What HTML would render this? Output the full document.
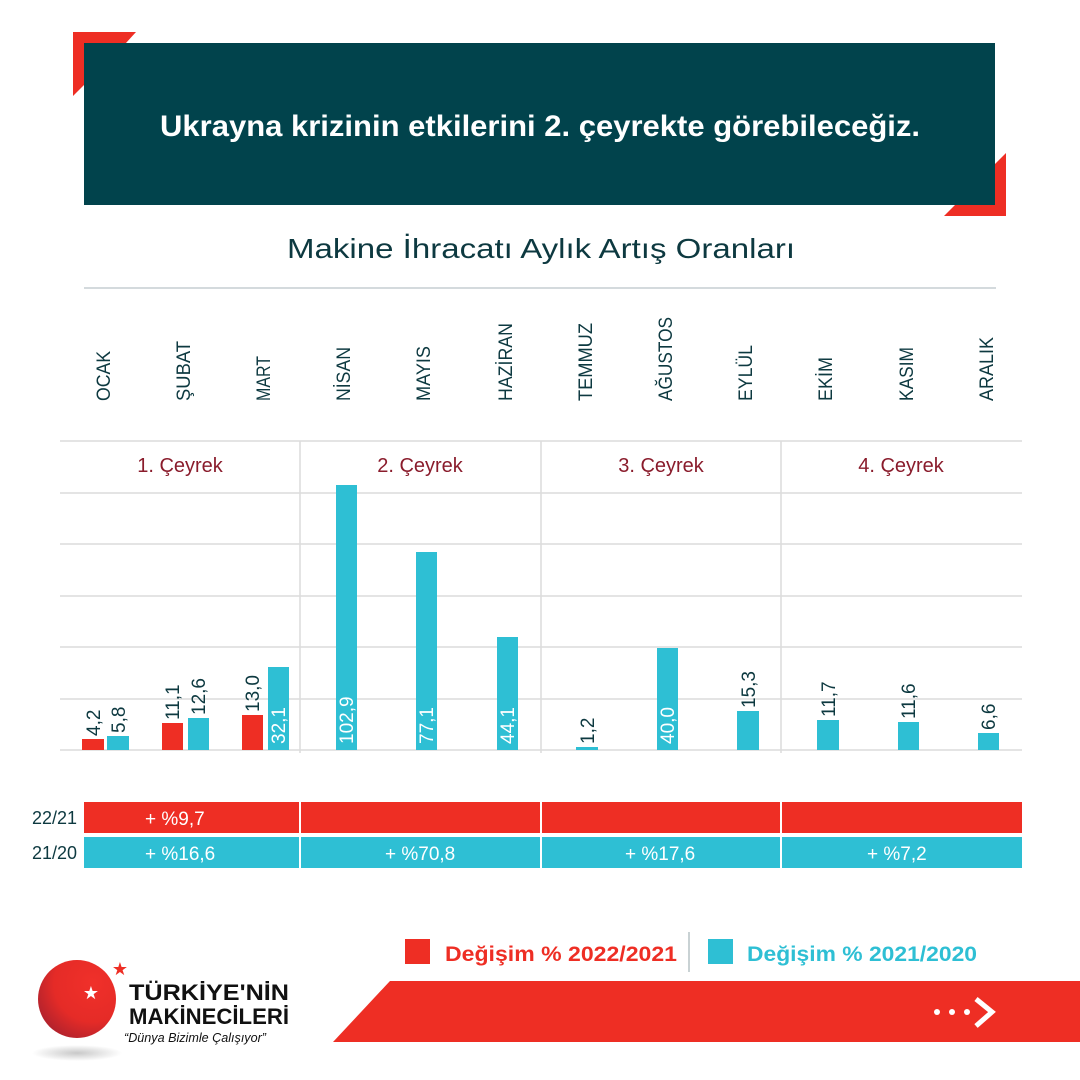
<!DOCTYPE html>
<html><head><meta charset="utf-8"><style>html,body{margin:0;padding:0;background:#fff}svg{display:block}</style></head>
<body>
<svg width="1080" height="1080" viewBox="0 0 1080 1080" xmlns="http://www.w3.org/2000/svg" font-family="Liberation Sans, DejaVu Sans, sans-serif">
<rect width="1080" height="1080" fill="#fff"/>
<polygon points="73,32 136,32 126,43 84,43 84,85 73,96" fill="#ee2e24"/>
<polygon points="1006,153 1006,216 944,216 955,205 995,205 995,164" fill="#ee2e24"/>
<rect x="84" y="43" width="911" height="162" fill="#01434c"/>
<text x="540" y="136" text-anchor="middle" fill="#fff" font-size="30" font-weight="bold" textLength="760" lengthAdjust="spacingAndGlyphs">Ukrayna krizinin etkilerini 2. çeyrekte görebileceğiz.</text>
<text x="541" y="258" text-anchor="middle" fill="#0d3940" font-size="28" textLength="508" lengthAdjust="spacingAndGlyphs">Makine İhracatı Aylık Artış Oranları</text>
<line x1="84" y1="288" x2="996" y2="288" stroke="#c5ced2" stroke-width="1.5"/>
<g fill="#0d3940" font-size="19">
<text transform="translate(110,401) rotate(-90)" textLength="50" lengthAdjust="spacingAndGlyphs">OCAK</text>
<text transform="translate(190,401) rotate(-90)" textLength="60" lengthAdjust="spacingAndGlyphs">ŞUBAT</text>
<text transform="translate(270,401) rotate(-90)" textLength="45" lengthAdjust="spacingAndGlyphs">MART</text>
<text transform="translate(350,401) rotate(-90)" textLength="54" lengthAdjust="spacingAndGlyphs">NİSAN</text>
<text transform="translate(430,401) rotate(-90)" textLength="55" lengthAdjust="spacingAndGlyphs">MAYIS</text>
<text transform="translate(512,401) rotate(-90)" textLength="78" lengthAdjust="spacingAndGlyphs">HAZİRAN</text>
<text transform="translate(592,401) rotate(-90)" textLength="78" lengthAdjust="spacingAndGlyphs">TEMMUZ</text>
<text transform="translate(672,401) rotate(-90)" textLength="84" lengthAdjust="spacingAndGlyphs">AĞUSTOS</text>
<text transform="translate(752,401) rotate(-90)" textLength="56" lengthAdjust="spacingAndGlyphs">EYLÜL</text>
<text transform="translate(832,401) rotate(-90)" textLength="44" lengthAdjust="spacingAndGlyphs">EKİM</text>
<text transform="translate(913,401) rotate(-90)" textLength="54" lengthAdjust="spacingAndGlyphs">KASIM</text>
<text transform="translate(993,401) rotate(-90)" textLength="64" lengthAdjust="spacingAndGlyphs">ARALIK</text>
</g>
<g stroke="#dcdcdc" stroke-width="1.5">
<line x1="60" y1="441" x2="1022" y2="441"/><line x1="60" y1="493" x2="1022" y2="493"/>
<line x1="60" y1="544" x2="1022" y2="544"/><line x1="60" y1="596" x2="1022" y2="596"/>
<line x1="60" y1="647" x2="1022" y2="647"/><line x1="60" y1="699" x2="1022" y2="699"/>
<line x1="60" y1="750" x2="1022" y2="750"/>
<line x1="300" y1="441" x2="300" y2="753"/><line x1="541" y1="441" x2="541" y2="753"/><line x1="781" y1="441" x2="781" y2="753"/>
</g>
<g fill="#8a1c2c" font-size="20" text-anchor="middle">
<text x="180" y="472">1. Çeyrek</text><text x="420" y="472">2. Çeyrek</text>
<text x="661" y="472">3. Çeyrek</text><text x="901" y="472">4. Çeyrek</text>
</g>
<g fill="#ee2e24">
<rect x="82" y="739" width="22" height="11"/><rect x="162" y="723" width="21" height="27"/><rect x="242" y="715" width="21" height="35"/>
</g>
<g fill="#2ebfd4">
<rect x="107" y="736" width="22" height="14"/><rect x="188" y="718" width="21" height="32"/><rect x="268" y="667" width="21" height="83"/>
<rect x="336" y="485" width="21" height="265"/><rect x="416" y="552" width="21" height="198"/><rect x="497" y="637" width="21" height="113"/>
<rect x="576" y="747" width="22" height="3"/><rect x="657" y="648" width="21" height="102"/><rect x="737" y="711" width="22" height="39"/>
<rect x="817" y="720" width="22" height="30"/><rect x="898" y="722" width="21" height="28"/><rect x="978" y="733" width="21" height="17"/>
</g>
<g fill="#0d3940" font-size="19">
<text transform="translate(100,736) rotate(-90)">4,2</text>
<text transform="translate(125,733) rotate(-90)">5,8</text>
<text transform="translate(179,720) rotate(-90)">11,1</text>
<text transform="translate(205,715) rotate(-90)">12,6</text>
<text transform="translate(259,712) rotate(-90)">13,0</text>
<text transform="translate(594,744) rotate(-90)">1,2</text>
<text transform="translate(755,708) rotate(-90)">15,3</text>
<text transform="translate(835,717) rotate(-90)">11,7</text>
<text transform="translate(915,719) rotate(-90)">11,6</text>
<text transform="translate(995,730) rotate(-90)">6,6</text>
</g>
<g fill="#fff" font-size="19">
<text transform="translate(285,744) rotate(-90)">32,1</text>
<text transform="translate(353,744) rotate(-90)">102,9</text>
<text transform="translate(433,744) rotate(-90)">77,1</text>
<text transform="translate(514,744) rotate(-90)">44,1</text>
<text transform="translate(674,744) rotate(-90)">40,0</text>
</g>
<g fill="#0d3940" font-size="18" text-anchor="end">
<text x="77" y="824">22/21</text><text x="77" y="859">21/20</text>
</g>
<rect x="84" y="802" width="938" height="31" fill="#ee2e24"/>
<rect x="84" y="837" width="938" height="31" fill="#2ebfd4"/>
<g stroke="#fff" stroke-width="2"><line x1="300" y1="802" x2="300" y2="868"/><line x1="541" y1="802" x2="541" y2="868"/><line x1="781" y1="802" x2="781" y2="868"/></g>
<g fill="#fff" font-size="19">
<text x="145" y="825">+ %9,7</text><text x="145" y="860">+ %16,6</text>
<text x="385" y="860">+ %70,8</text><text x="625" y="860">+ %17,6</text><text x="867" y="860">+ %7,2</text>
</g>
<rect x="405" y="939" width="25" height="25" fill="#ee2e24"/>
<text x="445" y="961" fill="#ee2e24" font-size="21" font-weight="bold" textLength="232" lengthAdjust="spacingAndGlyphs">Değişim % 2022/2021</text>
<line x1="689" y1="932" x2="689" y2="972" stroke="#b7c2c6" stroke-width="1.5"/>
<rect x="708" y="939" width="25" height="25" fill="#2ebfd4"/>
<text x="747" y="961" fill="#2ebfd4" font-size="21" font-weight="bold" textLength="230" lengthAdjust="spacingAndGlyphs">Değişim % 2021/2020</text>
<polygon points="333,1042 390,981 1080,981 1080,1042" fill="#ee2e24"/>
<g fill="#fff"><circle cx="937" cy="1012" r="3"/><circle cx="952" cy="1012" r="3"/><circle cx="967" cy="1012" r="3"/></g>
<polyline points="976,999 992,1012 976,1026" fill="none" stroke="#fff" stroke-width="5"/>
<defs>
<radialGradient id="g" cx="0.7" cy="0.3" r="0.9"><stop offset="0" stop-color="#f0302a"/><stop offset="0.55" stop-color="#e52b27"/><stop offset="1" stop-color="#9e1f2f"/></radialGradient>
<radialGradient id="sh" cx="0.5" cy="0.5" r="0.5"><stop offset="0" stop-color="#c8c8c8"/><stop offset="1" stop-color="#fff"/></radialGradient>
</defs>
<ellipse cx="77" cy="1053" rx="45" ry="8" fill="url(#sh)"/>
<circle cx="77" cy="999" r="39" fill="url(#g)"/>
<text x="91" y="999" fill="#fff" font-size="18" text-anchor="middle">★</text>
<text x="120" y="975" fill="#ee2e24" font-size="18" text-anchor="middle">★</text>
<text x="129" y="1000" fill="#111" font-size="22" font-weight="bold" textLength="160" lengthAdjust="spacingAndGlyphs">TÜRKİYE'NİN</text>
<text x="129" y="1024" fill="#111" font-size="22" font-weight="bold" textLength="160" lengthAdjust="spacingAndGlyphs">MAKİNECİLERİ</text>
<text x="124" y="1042" fill="#111" font-size="13" font-style="italic" textLength="142" lengthAdjust="spacingAndGlyphs">“Dünya Bizimle Çalışıyor”</text>
</svg>
</body></html>
